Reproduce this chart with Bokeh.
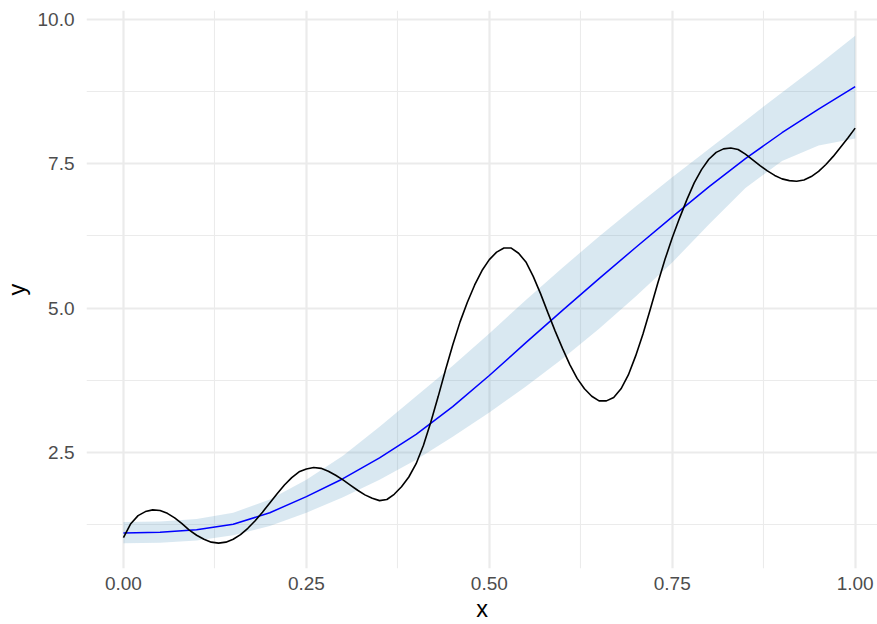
from bokeh.plotting import figure
from bokeh.models import Range1d, FixedTicker, NumeralTickFormatter
from bokeh.embed import file_html
from bokeh.resources import INLINE

# Observed series (black wiggly curve), sampled every 0.01
obs_x = [i / 100 for i in range(101)]
obs_y = [1.02, 1.26, 1.40, 1.47, 1.50, 1.49, 1.44, 1.36, 1.26, 1.15,
         1.06, 0.99, 0.94, 0.923, 0.94, 0.99, 1.07, 1.18, 1.31, 1.46,
         1.62, 1.78, 1.93, 2.06, 2.16, 2.21, 2.235, 2.22, 2.17, 2.10,
         2.02, 1.93, 1.84, 1.76, 1.70, 1.66, 1.68, 1.77, 1.90, 2.07,
         2.30, 2.62, 3.02, 3.46, 3.92, 4.36, 4.76, 5.10, 5.40, 5.65,
         5.84, 5.97, 6.04, 6.04, 5.95, 5.80, 5.55, 5.25, 4.92, 4.60,
         4.30, 4.02, 3.78, 3.60, 3.47, 3.39, 3.39, 3.45, 3.60, 3.84,
         4.17, 4.55, 4.98, 5.42, 5.84, 6.22, 6.56, 6.88, 7.17, 7.40,
         7.58, 7.70, 7.76, 7.775, 7.75, 7.67, 7.57, 7.47, 7.38, 7.30,
         7.24, 7.21, 7.20, 7.22, 7.28, 7.37, 7.49, 7.63, 7.79, 7.95,
         8.12]

# Fitted mean and interval, sampled every 0.05
fit_x = [i / 20 for i in range(21)]
fit_mean = [1.10, 1.11, 1.155, 1.25, 1.45, 1.73, 2.04, 2.40, 2.81, 3.29,
            3.83, 4.40, 4.96, 5.51, 6.05, 6.58, 7.10, 7.59, 8.04, 8.45,
            8.84]
fit_upper = [1.29, 1.30, 1.34, 1.45, 1.68, 2.02, 2.44, 2.94, 3.47, 4.00,
             4.56, 5.14, 5.70, 6.24, 6.76, 7.27, 7.76, 8.25, 8.74, 9.22,
             9.72]
fit_lower = [0.92, 0.93, 0.97, 1.06, 1.22, 1.45, 1.72, 2.02, 2.37, 2.77,
             3.19, 3.64, 4.12, 4.64, 5.20, 5.79, 6.45, 7.08, 7.55, 7.82,
             7.94]

# Axis ticks
x_ticks = [0.0, 0.25, 0.5, 0.75, 1.0]
x_minor = [0.125, 0.375, 0.625, 0.875]
y_ticks = [2.5, 5.0, 7.5, 10.0]
y_minor = [1.25, 3.75, 6.25, 8.75]

FONT = "Liberation Sans"

p = figure(width=877, height=624, output_backend="svg", toolbar_location=None,
           x_range=Range1d(-0.0505, 1.0305), y_range=Range1d(0.483, 10.16),
           min_border_left=85, min_border_right=0, min_border_top=10,
           min_border_bottom=56)
p.outline_line_color = None
p.background_fill_color = "white"
p.border_fill_color = "white"

# grid
for grid, major, minor in ((p.xgrid, x_ticks, x_minor), (p.ygrid, y_ticks, y_minor)):
    grid.ticker = FixedTicker(ticks=major, minor_ticks=minor)
    grid.grid_line_color = "#ebebeb"
    grid.grid_line_width = 2.2
    grid.minor_grid_line_color = "#ebebeb"
    grid.minor_grid_line_width = 1.1

# axes
p.xaxis.ticker = FixedTicker(ticks=x_ticks)
p.yaxis.ticker = FixedTicker(ticks=y_ticks)
p.xaxis.formatter = NumeralTickFormatter(format="0.00")
p.yaxis.formatter = NumeralTickFormatter(format="0.0")
p.xaxis.axis_label = "x"
p.yaxis.axis_label = "y"
for ax in (p.xaxis[0], p.yaxis[0]):
    ax.axis_line_color = None
    ax.major_tick_line_color = None
    ax.minor_tick_line_color = None
    ax.major_tick_out = 0
    ax.major_tick_in = 0
    ax.minor_tick_out = 0
    ax.major_label_text_font = FONT
    ax.major_label_text_font_size = "19px"
    ax.major_label_text_color = "#4d4d4d"
    ax.axis_label_text_font = FONT
    ax.axis_label_text_font_size = "23.5px"
    ax.axis_label_text_font_style = "normal"
    ax.axis_label_text_color = "black"
p.xaxis.major_label_standoff = 8
p.xaxis.axis_label_standoff = 3
p.yaxis.major_label_standoff = 12
p.yaxis.axis_label_standoff = 5

# interval band, fitted line, observed curve
p.varea(x=fit_x, y1=fit_lower, y2=fit_upper, fill_color="#418cb9", fill_alpha=0.2)
p.line(fit_x, fit_mean, line_color="#0000ff", line_width=1.5)
p.line(obs_x, obs_y, line_color="black", line_width=1.6)

open("out.html", "w").write(file_html(p, INLINE))
